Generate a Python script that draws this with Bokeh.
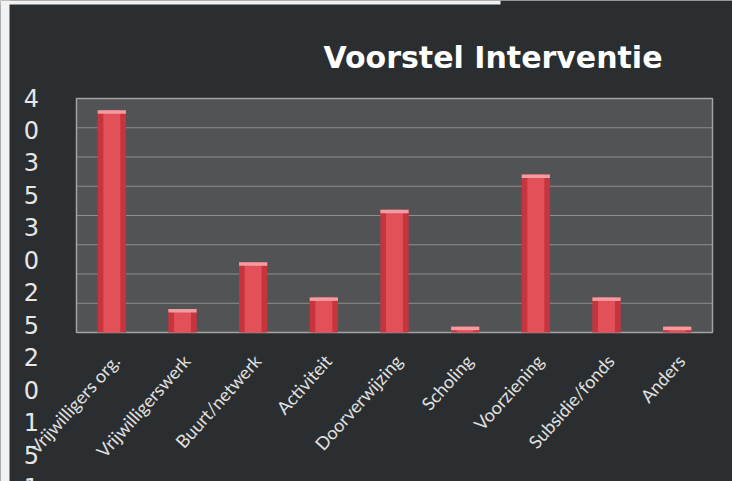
from bokeh.plotting import figure
from bokeh.models import Range1d, ColumnDataSource
from bokeh.core.properties import value
from bokeh.embed import file_html
from bokeh.resources import INLINE

# ---- data ----
categories = ["Vrijwilligers org.", "Vrijwilligerswerk", "Buurt/netwerk", "Activiteit",
              "Doorverwijzing", "Scholing", "Voorziening", "Subsidie/fonds", "Anders"]
counts = [38, 4, 12, 6, 21, 1, 27, 6, 1]
y_ticks = [40, 35, 30, 25, 20, 15, 10, 5, 0]
y_tick_labels = ["40", "35", "30", "25", "20", "15", "10", "5", "0"]
title_text = "Voorstel Interventie"

# ---- layout (pixels) ----
W, H = 732, 481
FL, FR, FT, FB = 76, 712, 98, 332          # plot-area box inside the canvas
n = len(categories)
ymax = max(y_ticks)
px_x = (FR - FL) / n                       # pixels per category
px_y = (FB - FT) / ymax                    # pixels per unit
x0 = -FL / px_x
x1 = n + (W - FR) / px_x
y1 = ymax + FT / px_y
y0 = -(H - FB) / px_y

BG = "#2b2e30"
PLOT_BG = "#525355"

p = figure(width=W, height=H, x_range=Range1d(x0, x1), y_range=Range1d(y0, y1),
           output_backend="svg", toolbar_location=None, min_border=0)
p.axis.visible = False
p.grid.visible = False
p.outline_line_color = None
p.background_fill_color = BG
p.border_fill_color = BG

# light scan edges (left and top-left)
p.quad(left=[x0], right=[x0 + 9 / px_x], bottom=[y0], top=[y1],
       fill_color="#f2f2f2", line_color=None)
p.quad(left=[x0], right=[x0 + 500 / px_x], bottom=[y1 - 4 / px_y], top=[y1],
       fill_color="#f2f2f2", line_color=None)

# plot area
p.quad(left=[0], right=[n], bottom=[min(y_ticks)], top=[ymax],
       fill_color=PLOT_BG, line_color=None)
inner = [t for t in y_ticks if 0 < t < ymax]
p.segment(x0=[0] * len(inner), x1=[n] * len(inner), y0=inner, y1=inner,
          line_color="#8e8e8e", line_width=1)
p.quad(left=[0], right=[n], bottom=[min(y_ticks)], top=[ymax],
       fill_color=None, line_color="#a3a3a3", line_width=1.5)

# bars
xs = [i + 0.5 for i in range(n)]
src = ColumnDataSource(dict(x=xs, top=counts, cap=[c - 0.6 for c in counts]))
p.vbar(x="x", top="top", bottom=0, width=0.4, source=src,
       fill_color="#c8343e", line_color=None)
p.vbar(x="x", top="top", bottom=0, width=0.24, source=src,
       fill_color="#e2505a", line_color=None)
p.vbar(x="x", top="top", bottom="cap", width=0.4, source=src,
       fill_color="#f19ca0", line_color=None)

# category labels
p.text(x=[x + 4 / px_x for x in xs], y=[-25 / px_y] * n, text=categories,
       angle=0.84, text_align="right", text_baseline="middle",
       text_font=value("Lato"), text_font_size="18px", text_color="#e0e0e0")

# title
p.text(x=[(662 - FL) / px_x], y=[ymax + (FT - 56.5) / px_y], text=[title_text],
       text_align="right", text_baseline="alphabetic", text_font=value("DejaVu Sans"),
       text_font_style="bold", text_font_size="30px", text_color="#ffffff")

# stacked y-axis labels (one character per line, as in the original)
stacked = "\n".join(ch for lbl in y_tick_labels for ch in lbl)
p.text(x=[(31 - FL) / px_x], y=[ymax + (FT - 84) / px_y], text=[stacked],
       text_align="center", text_baseline="top", text_font=value("DejaVu Sans"),
       text_font_size="24px", text_color="#e6e6e6", text_line_height=1.16)

open("out.html", "w").write(file_html(p, INLINE))
